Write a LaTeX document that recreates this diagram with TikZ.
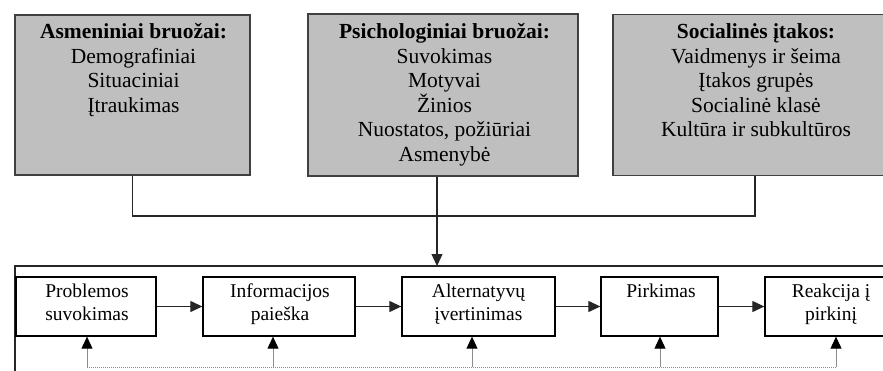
\documentclass[tikz,border=0pt]{standalone}
\usepackage{fontspec}
\setmainfont{Liberation Serif}
\usetikzlibrary{arrows.meta}
\tikzset{
  topbox/.style={draw=black!75, line width=1.6pt, fill=black!25, inner sep=0pt},
  toptext/.style={anchor=north, align=center, inner sep=0pt,
    font=\fontsize{21.5}{24.5}\selectfont},
  stepbox/.style={draw=black, line width=1.3pt, fill=white, inner sep=0pt, minimum height=59pt},
  steptext/.style={anchor=north, align=center, inner sep=0pt,
    font=\fontsize{19.5}{23}\selectfont},
  conn/.style={draw=black!85, line width=1.2pt},
  arr/.style={conn, -{Triangle[length=12pt,width=11pt]}},
  fbline/.style={draw=black!45, line width=1pt, densely dotted},
  fbarr/.style={draw=black!45, line width=0.9pt, -{Triangle[length=12pt,width=11pt,color=black]}}
}
\begin{document}
\setlength{\lineskiplimit}{-20pt}
\begin{tikzpicture}[x=1pt,y=-1pt]
\useasboundingbox (0,0) rectangle (883,370);
\clip (0,0) rectangle (883,370);
% top boxes
\node[topbox, minimum width=235pt, minimum height=160pt] (b1) at (132.5,95) {};
\node[topbox, minimum width=270pt, minimum height=162pt] (b2) at (443,95) {};
\node[topbox, minimum width=284pt, minimum height=161pt] (b3) at (755,95) {};
\node[toptext] (t1) at (133.5,21.4) {\strut\textbf{Asmeniniai bruožai:}\\Demografiniai\\Situaciniai\\Įtraukimas};
\node[toptext] (t2) at (444.5,21.4) {\strut\textbf{Psichologiniai bruožai:}\\Suvokimas\\Motyvai\\Žinios\\Nuostatos, požiūriai\\Asmenybė};
\node[toptext] (t3) at (756,21.4) {\strut\textbf{Socialinės įtakos:}\\Vaidmenys ir šeima\\Įtakos grupės\\Socialinė klasė\\Kultūra ir subkultūros};
% outer frame
\coordinate (otl) at (15,266);
\coordinate (otr) at (900,266);
\coordinate (obl) at (15,390);
\draw[conn] (otr) -- (otl) -- (obl);
% joining connector
\coordinate (j) at (437,216);
\draw[conn] (b1.south) |- (j) -| (b3.south);
\draw[arr] ([xshift=-6pt]b2.south) -- (j) -- (j |- otl);
% process boxes
\node[stepbox, minimum width=140pt] (A) at (86,306.5) {};
\node[stepbox, minimum width=152pt] (B) at (279,306.5) {};
\node[stepbox, minimum width=153pt] (C) at (478.5,306.5) {};
\node[stepbox, minimum width=117pt] (D) at (659.5,306.5) {};
\node[stepbox, minimum width=132pt] (E) at (831,306.5) {};
\node[steptext] (ta) at (87,280.9) {\strut Problemos\\suvokimas};
\node[steptext] (tb) at (280,280.9) {\strut Informacijos\\paieška};
\node[steptext] (tc) at (478.5,280.9) {\strut Alternatyvų\\įvertinimas};
\node[steptext] (td) at (661,280.9) {\strut Pirkimas};
\node[steptext] (te) at (831,280.9) {\strut Reakcija į\\pirkinį};
\draw[arr] (A.east) -- (B.west);
\draw[arr] (B.east) -- (C.west);
\draw[arr] (C.east) -- (D.west);
\draw[arr] (D.east) -- (E.west);
% feedback
\coordinate (d1) at (87,367);
\coordinate (d2) at (273,367);
\coordinate (d3) at (472,367);
\coordinate (d4) at (660,367);
\coordinate (d5) at (836,367);
\draw[fbline] (d1) -- (d5);
\draw[fbarr] (d1) -- (d1 |- A.south);
\draw[fbarr] (d2) -- (d2 |- B.south);
\draw[fbarr] (d3) -- (d3 |- C.south);
\draw[fbarr] (d4) -- (d4 |- D.south);
\draw[fbarr] (d5) -- (d5 |- E.south);
\end{tikzpicture}
\end{document}
